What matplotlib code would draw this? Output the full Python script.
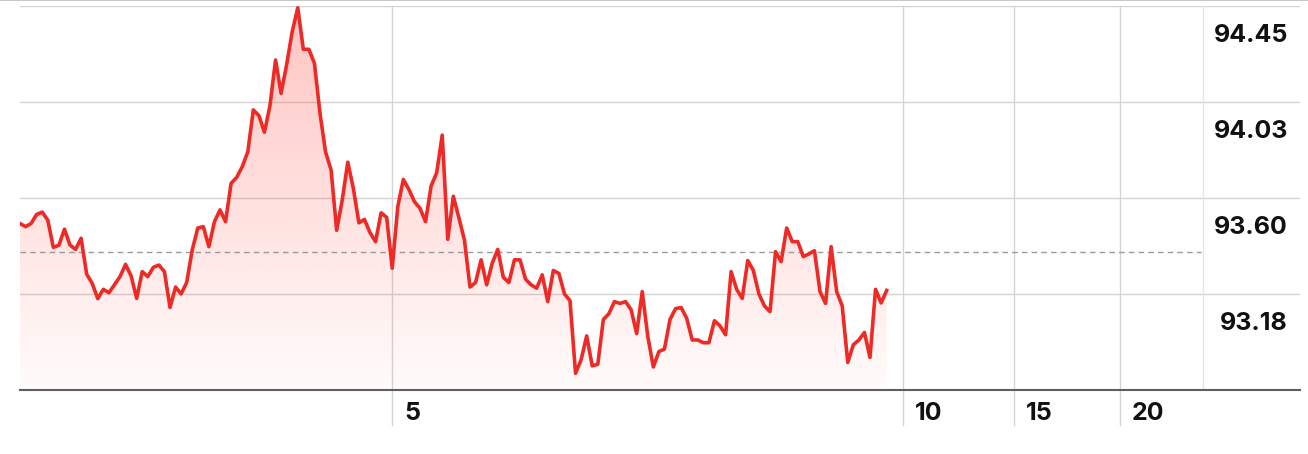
import numpy as np
import matplotlib
matplotlib.use("Agg")
import matplotlib.pyplot as plt
from matplotlib.patches import PathPatch

# price readings, one per sample, left to right
prices = [
    93.490, 93.476, 93.490, 93.530, 93.540, 93.505, 93.385, 93.394, 93.465, 93.395,
    93.376, 93.425, 93.267, 93.226, 93.159, 93.200, 93.185, 93.220, 93.256, 93.310,
    93.259, 93.160, 93.278, 93.256, 93.297, 93.307, 93.278, 93.120, 93.210, 93.180,
    93.230, 93.373, 93.470, 93.476, 93.388, 93.498, 93.550, 93.498, 93.667, 93.693,
    93.740, 93.805, 93.990, 93.965, 93.892, 94.010, 94.210, 94.063, 94.190, 94.335,
    94.440, 94.257, 94.257, 94.195, 93.975, 93.805, 93.725, 93.460, 93.593, 93.760,
    93.645, 93.493, 93.508, 93.450, 93.410, 93.537, 93.517, 93.293, 93.564, 93.684,
    93.640, 93.586, 93.557, 93.498, 93.655, 93.713, 93.879, 93.420, 93.610, 93.515,
    93.417, 93.210, 93.230, 93.330, 93.220, 93.315, 93.376, 93.253, 93.230, 93.330,
    93.330, 93.245, 93.220, 93.205, 93.264, 93.146, 93.283, 93.270, 93.180, 93.150,
    92.830, 92.890, 92.995, 92.863, 92.870, 93.067, 93.093, 93.146, 93.138, 93.146,
    93.110, 93.005, 93.190, 92.993, 92.858, 92.926, 92.937, 93.067, 93.115, 93.120,
    93.073, 92.977, 92.977, 92.965, 92.965, 93.062, 93.039, 93.000, 93.278, 93.200,
    93.160, 93.327, 93.283, 93.180, 93.127, 93.102, 93.366, 93.322, 93.470, 93.410,
    93.410, 93.344, 93.356, 93.370, 93.190, 93.138, 93.388, 93.190, 93.127, 92.878,
    92.956, 92.977, 93.010, 92.900, 93.200, 93.140, 93.195,
]
prev_close = 93.365

y_ticks = [94.45, 94.0267, 93.6033, 93.18]
y_bottom = 92.7567

# x positions in sample units
x_ticks = [67, 159, 179, 198]
x_labels = ["5", "10", "15", "20"]
x_plot_end = 213
x_max = 230.4

red = "#EE2A26"
grid_col = "#D4D4D4"

plt.rcParams['font.family'] = ['Inter', 'DejaVu Sans']

fig = plt.figure(figsize=(13.08, 4.54), dpi=100)
ax = fig.add_axes([20 / 1308, 64 / 454, 1280 / 1308, 384.5 / 454])

x = np.arange(len(prices))

# gradient fill under the line
fill = ax.fill_between(x, prices, y_bottom, color="none", lw=0)
clip = PathPatch(fill.get_paths()[0], transform=ax.transData,
                 facecolor="none", edgecolor="none")
ax.add_patch(clip)
alpha = np.linspace(0.02, 0.30, 256)
grad = np.zeros((256, 1, 4))
grad[:, 0, 0] = 1.0
grad[:, 0, 1] = 59 / 255
grad[:, 0, 2] = 48 / 255
grad[:, 0, 3] = alpha
im = ax.imshow(grad, extent=[0, len(prices) - 1, y_bottom, y_ticks[0]],
               origin="lower", aspect="auto", zorder=1)
im.set_clip_path(clip)

# grid
for v in y_ticks:
    ax.axhline(v, color=grid_col, lw=1, zorder=0)
for xt in x_ticks:
    ax.axvline(xt, ymin=-0.091, ymax=1, color=grid_col, lw=1, zorder=0, clip_on=False)
ax.axvline(x_plot_end, color="#E6E6E6", lw=1, zorder=0)

# previous close
ax.plot([0, x_plot_end - 0.4], [prev_close, prev_close], color="#9A9A9A",
        lw=1, ls=(0, (4, 3)), zorder=2)

ax.plot(x, prices, color=red, lw=2.6, solid_joinstyle="round", zorder=3)

# labels
for v in y_ticks:
    ax.annotate(f"{v:.2f}", xy=(1288 / 1280 - 20 / 1280, v),
                xycoords=("axes fraction", "data"),
                xytext=(0, -26), textcoords="offset points",
                ha="right", va="baseline", fontsize=18, fontweight="bold",
                color="#111111")
for xt, lab in zip(x_ticks, x_labels):
    ax.annotate(lab, xy=(xt, y_bottom), xycoords="data",
                xytext=(8.5, -21.5), textcoords="offset points",
                ha="left", va="baseline", fontsize=18, fontweight="bold",
                color="#111111", annotation_clip=False)

ax.set_xlim(0, x_max)
ax.set_ylim(y_bottom, y_ticks[0])
ax.set_xticks([])
ax.set_yticks([])
for s in ["top", "left", "right"]:
    ax.spines[s].set_visible(False)
ax.spines["bottom"].set_color("#5E5E5E")
ax.spines["bottom"].set_linewidth(1.5)

# thin frame line at the very top
fig.add_artist(plt.Line2D([0, 1], [0.999, 0.999], color="#BDBDBD", lw=1.2))

fig.savefig("out.png", dpi=100, facecolor="white")
